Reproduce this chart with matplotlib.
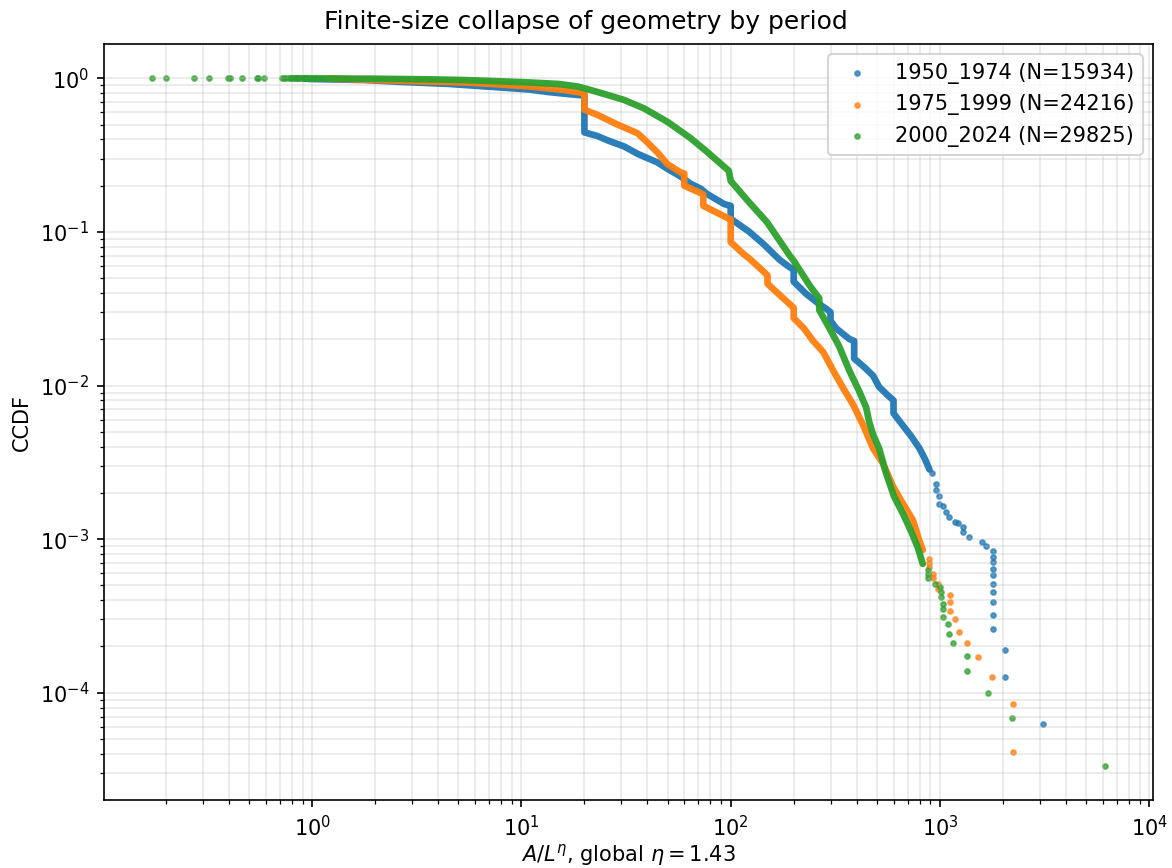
import numpy as np
import matplotlib
matplotlib.use("Agg")
import matplotlib.pyplot as plt

# --- Data ---
labels = ["1950_1974 (N=15934)", "1975_1999 (N=24216)", "2000_2024 (N=29825)"]
colors = ["#1f77b4", "#ff7f0e", "#2ca02c"]

# dense part of each CCDF (thousands of overlapping points -> drawn as a thick band)
blue_line_x = [0.92, 1.0, 1.8, 2.6, 4.5, 7.7, 11, 13.4, 16, 19.5, 20, 20, 23, 25.8, 31, 36,
               44.6, 50, 54, 57, 64, 72, 77, 93, 100, 100, 123, 144, 171, 191, 200, 200,
               230, 265, 287, 300, 300, 320, 369, 389, 389, 434, 479, 512, 560, 600, 600,
               651, 727, 798, 850, 891]
blue_line_y = [0.996, 0.99, 0.975, 0.95, 0.92, 0.875, 0.845, 0.815, 0.795, 0.775, 0.775, 0.445,
               0.422, 0.395, 0.36, 0.322, 0.284, 0.257, 0.242, 0.232, 0.207, 0.191, 0.177,
               0.152, 0.148, 0.122, 0.100, 0.083, 0.066, 0.059, 0.057, 0.0475, 0.0394,
               0.0339, 0.0315, 0.030, 0.0264, 0.0235, 0.0201, 0.0195, 0.0150, 0.0132,
               0.0116, 0.0098, 0.0087, 0.0080, 0.0066, 0.0057, 0.0047, 0.0039, 0.0033, 0.00284]

orange_line_x = [1.2, 2.6, 5.4, 7.7, 11, 16, 19.5, 20, 20, 23, 28.8, 35.8, 38.7, 44.6, 49.8,
                 57.4, 60, 60, 71.4, 74, 74, 98, 100, 100, 115, 123, 144, 150, 150, 171, 191,
                 200, 200, 223, 248, 277, 309, 345, 385, 430, 479, 535, 597, 666, 743, 798, 828]
orange_line_y = [0.997, 0.965, 0.94, 0.915, 0.885, 0.84, 0.805, 0.80, 0.625, 0.58, 0.50, 0.44,
                 0.40, 0.33, 0.277, 0.245, 0.24, 0.20, 0.18, 0.175, 0.148, 0.122, 0.121, 0.086,
                 0.072, 0.067, 0.055, 0.052, 0.046, 0.039, 0.034, 0.032, 0.0275, 0.0237,
                 0.0195, 0.0165, 0.0125, 0.0096, 0.0075, 0.0055, 0.0039, 0.0031, 0.0022,
                 0.0017, 0.00133, 0.00097, 0.00085]

green_line_x = [0.8, 1.0, 2.0, 3.7, 5.4, 7.7, 11, 15, 18.6, 21.4, 25, 31, 38.7, 50, 64, 77,
                98, 100, 123, 149, 191, 200, 238, 257, 265, 265, 296, 330, 369, 411, 444,
                459, 479, 512, 552, 603, 666, 727, 784, 828]
green_line_y = [0.9995, 0.999, 0.995, 0.985, 0.975, 0.958, 0.94, 0.92, 0.885, 0.84, 0.79,
                0.723, 0.636, 0.52, 0.41, 0.333, 0.25, 0.215, 0.155, 0.116, 0.0705, 0.065,
                0.045, 0.039, 0.037, 0.031, 0.0237, 0.018, 0.0125, 0.0092, 0.0072, 0.0058,
                0.0048, 0.0039, 0.0027, 0.0019, 0.00146, 0.00113, 0.00088, 0.00069]

# sparse points (left head and right tail)
blue_dot_x = [0.792, 0.837, 0.858, 0.916, 920, 955, 955, 986, 986, 1030, 1066, 1102, 1176,
              1220, 1283, 1283, 1371, 1581, 1651, 1790, 1790, 1790, 1790, 1790, 1790, 1790,
              1790, 1790, 1790, 2050, 2050, 3100]
blue_dot_y = [1.0, 1.0, 1.0, 0.999, 0.0027, 0.0023, 0.0021, 0.0019, 0.0017, 0.00165, 0.0015,
              0.0014, 0.0013, 0.00128, 0.0012, 0.00112, 0.00103, 0.00096, 0.0009, 0.00084,
              0.00077, 0.00071, 0.00064, 0.00058, 0.00051, 0.00045, 0.00039, 0.00032,
              0.00026, 0.00019, 0.000126, 0.0000628]

orange_dot_x = [891, 891, 891, 924, 924, 977, 977, 1114, 1114, 1114, 1175, 1228, 1340, 1528,
                1774, 2240, 2240]
orange_dot_y = [0.00074, 0.0007, 0.00066, 0.00059, 0.00056, 0.00051, 0.00047, 0.00043,
                0.00039, 0.00034, 0.0003, 0.00025, 0.00021, 0.00017, 0.000127, 0.000085,
                0.0000413]

green_dot_x = [0.171, 0.20, 0.273, 0.32, 0.396, 0.403, 0.461, 0.546, 0.554, 0.587, 0.718,
               0.731, 0.75, 0.778, 875, 875, 875, 950, 997, 1014, 1014, 1031, 1031, 1031,
               1096, 1108, 1156, 1340, 1340, 1688, 2214, 6170]
green_dot_y = [1.0, 1.0, 1.0, 1.0, 1.0, 1.0, 1.0, 1.0, 1.0, 1.0, 1.0, 1.0, 1.0, 1.0,
               0.00063, 0.00059, 0.00056, 0.00051, 0.00049, 0.00045, 0.00042, 0.00038,
               0.00035, 0.00031, 0.00028, 0.00024, 0.00021, 0.000174, 0.000138, 0.0001,
               0.000068, 0.0000335]

lines = [(blue_line_x, blue_line_y), (orange_line_x, orange_line_y), (green_line_x, green_line_y)]
dots = [(blue_dot_x, blue_dot_y), (orange_dot_x, orange_dot_y), (green_dot_x, green_dot_y)]

# --- Plot ---
fig, ax = plt.subplots(figsize=(1172 / 150, 868 / 150), dpi=150)
fig.subplots_adjust(left=0.0887, right=0.9838, top=0.9493, bottom=0.0783)

for (lx, ly), (dx, dy), c, lab in zip(lines, dots, colors, labels):
    ax.plot(lx, ly, color=c, lw=3.2, alpha=0.95, solid_joinstyle="round", solid_capstyle="round")
    ax.scatter(dx, dy, s=5, color=c, alpha=0.7, label=lab)

ax.set_xscale("log")
ax.set_yscale("log")
ax.grid(True, which="both", alpha=0.28)
ax.set_xlabel(r"$A/L^{\eta}$, global $\eta=1.43$", labelpad=1)
ax.set_ylabel("CCDF")
# title is centred on the figure, not on the axes
fig.suptitle("Finite-size collapse of geometry by period", fontsize=12, y=0.988)
ax.legend(loc="upper right")

fig.savefig("out.png", dpi=150)
